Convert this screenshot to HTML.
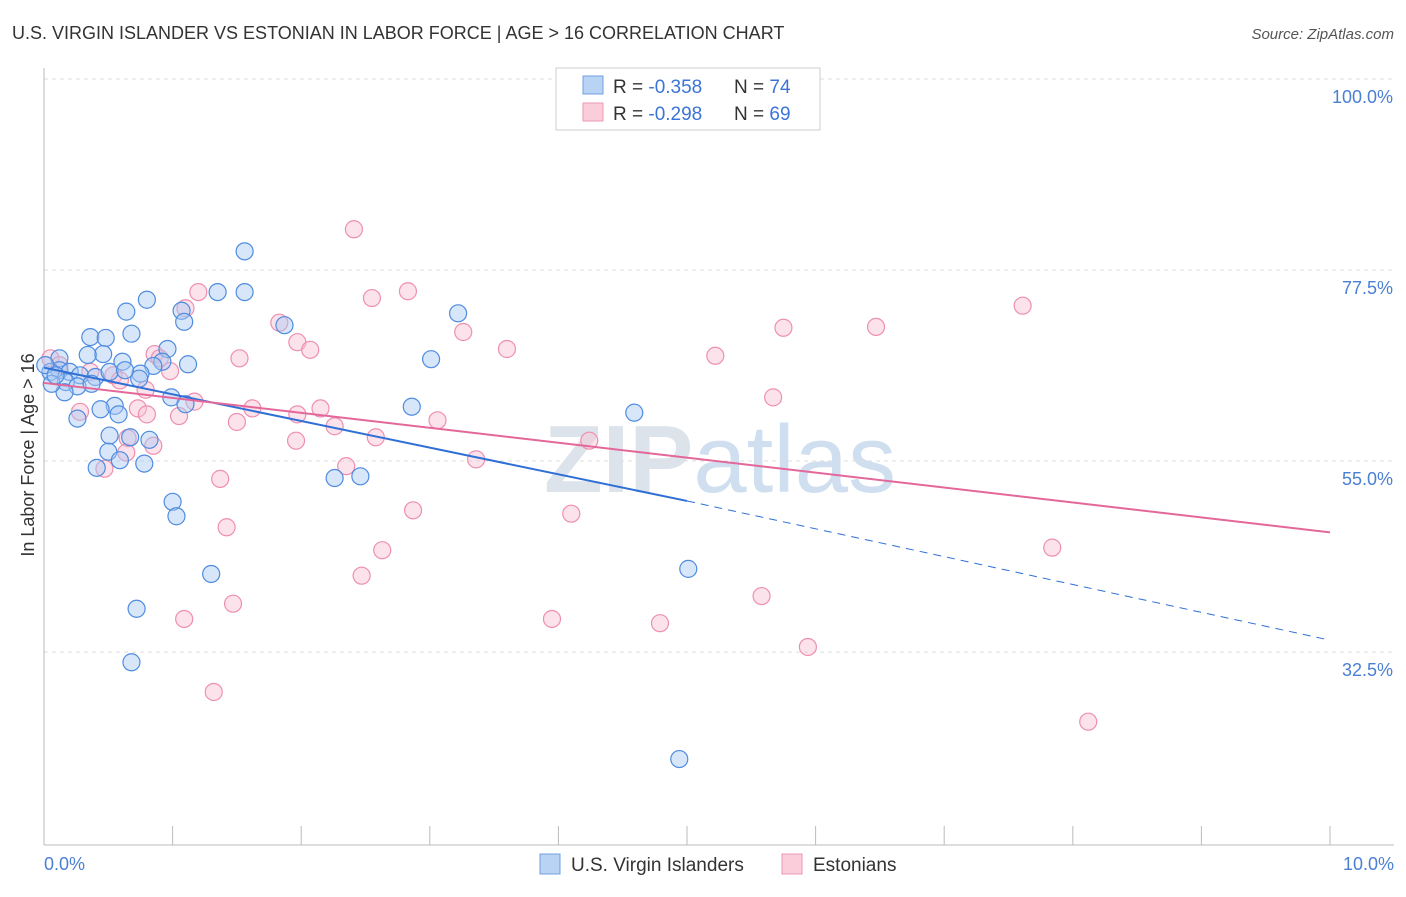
<!DOCTYPE html>
<html><head><meta charset="utf-8"><style>
body{margin:0;background:#fff;font-family:"Liberation Sans",sans-serif;}
svg text{font-family:"Liberation Sans",sans-serif;}
</style></head><body>
<svg id="chart" width="1406" height="892" xmlns="http://www.w3.org/2000/svg">
<text x="12" y="39" font-size="18" fill="#333">U.S. VIRGIN ISLANDER VS ESTONIAN IN LABOR FORCE | AGE &gt; 16 CORRELATION CHART</text>
<text x="1394" y="39" font-size="15" fill="#555" font-style="italic" text-anchor="end">Source: ZipAtlas.com</text>
<text x="720" y="492" font-size="96" fill="#dde3ea" text-anchor="middle" font-weight="bold">ZIP<tspan fill="#cfdff0" font-weight="normal">atlas</tspan></text>
<g id="grid"></g><g id="pts"></g><g id="trend"></g>
<text transform="translate(34,455) rotate(-90)" font-size="18" fill="#333" text-anchor="middle">In Labor Force | Age &gt; 16</text>
<text x="44" y="870" font-size="18" fill="#4a7fd4">0.0%</text>
<text x="1394" y="870" font-size="18" fill="#4a7fd4" text-anchor="end">10.0%</text>
<g>
<rect x="556" y="68" width="264" height="62" fill="#fff" stroke="#ccc"/>
<rect x="583" y="76" width="20" height="18" fill="#b9d3f5" stroke="#6f9fe0"/>
<rect x="583" y="103" width="20" height="18" fill="#fbcddb" stroke="#ee9ab5"/>
<text x="613" y="93" font-size="19" fill="#333">R = <tspan fill="#3b74d6">-0.358</tspan></text>
<text x="734" y="93" font-size="19" fill="#333">N = <tspan fill="#3b74d6">74</tspan></text>
<text x="613" y="120" font-size="19" fill="#333">R = <tspan fill="#3b74d6">-0.298</tspan></text>
<text x="734" y="120" font-size="19" fill="#333">N = <tspan fill="#3b74d6">69</tspan></text>
</g>
<g>
<rect x="540" y="854" width="20" height="20" fill="#b9d3f5" stroke="#6f9fe0"/>
<text x="571" y="871" font-size="19" fill="#333">U.S. Virgin Islanders</text>
<rect x="782" y="854" width="20" height="20" fill="#fbcddb" stroke="#ee9ab5"/>
<text x="813" y="871" font-size="19" fill="#333">Estonians</text>
</g>
</svg>
<script>
const yTicks=[100,77.5,55,32.5];
const xTickVals=[0,1,2,3,4,5,6,7,8,9,10];
const blueX=[1.56,1.35,1.56,0.80,0.64,1.07,1.09,1.87,3.22,0.68,0.36,0.48,0.96,0.46,0.34,0.12,0.61,0.92,1.12,3.01,0.85,0.75,0.74,0.12,0.20,0.05,0.28,0.40,0.51,0.63,0.17,0.26,0.16,0.06,0.37,0.99,0.55,0.44,1.10,0.58,0.26,2.86,4.59,0.51,0.67,0.82,0.50,0.59,0.78,0.41,2.26,2.46,1.00,1.03,1.30,5.01,0.72,0.68,4.94,0.01,0.09];
const blueY=[79.7,74.9,74.9,74.0,72.6,72.7,71.4,71.0,72.4,70.0,69.6,69.5,68.2,67.6,67.5,67.1,66.7,66.7,66.4,67.0,66.2,65.3,64.7,65.7,65.5,65.5,65.1,64.9,65.5,65.7,64.3,63.8,63.1,64.1,64.1,62.5,61.5,61.1,61.7,60.5,60.0,61.4,60.7,58.0,57.8,57.5,56.1,55.1,54.7,54.2,53.0,53.2,50.2,48.5,41.7,42.3,37.6,31.3,19.9,66.3,65.1];
const pinkX=[2.41,1.20,2.83,2.55,1.10,7.61,1.83,5.75,6.47,3.26,1.97,2.07,3.60,5.22,1.52,0.86,0.90,0.98,0.54,0.05,0.12,0.36,0.59,0.79,5.67,1.17,1.62,2.15,1.97,0.73,0.80,1.05,0.28,1.50,2.26,3.06,2.58,1.96,4.24,0.65,0.85,0.64,3.36,2.35,0.47,1.37,2.87,4.10,1.42,2.63,7.84,2.47,1.47,5.58,1.09,3.95,4.79,5.94,1.32,8.12];
const pinkY=[82.3,74.9,75.0,74.2,73.0,73.3,71.3,70.7,70.8,70.2,69.0,68.1,68.2,67.4,67.1,67.6,67.1,65.6,65.1,67.1,66.3,65.5,64.5,63.4,62.5,62.0,61.2,61.2,60.5,61.2,60.5,60.3,60.8,59.6,59.1,59.8,57.8,57.4,57.4,57.7,56.8,56.0,55.2,54.4,54.1,52.9,49.2,48.8,47.2,44.5,44.8,41.5,38.2,39.1,36.4,36.4,35.9,33.1,27.8,24.3];
const blueTrend=[66.0,50.3,33.9];
const pinkTrend=[64.2,46.6];
const NS="http://www.w3.org/2000/svg";
const X=v=>44+v*128.6, Y=v=>79+(100-v)*8.49;
function mk(t,a,p){const e=document.createElementNS(NS,t);for(const k in a)e.setAttribute(k,a[k]);p.appendChild(e);return e;}
const grid=document.getElementById('grid');
yTicks.forEach(t=>{
 const l=mk('line',{x1:44,x2:1394,y1:Y(t),y2:Y(t),stroke:'#ddd','stroke-dasharray':'4,4'},grid);
 
 
 const tx=mk('text',{x:1393,y:Y(t)+24,'font-size':18,fill:'#4a7fd4','text-anchor':'end'},grid);
 tx.textContent=(t===100?'100.0':t.toFixed(1))+'%';
 
 
});
const ax=mk('line',{x1:44,x2:44,y1:68,y2:845,stroke:'#bbb'},grid);


const bx=mk('line',{x1:44,x2:1394,y1:845,y2:845,stroke:'#bbb'},grid);


xTickVals.forEach(v=>{
 const l=mk('line',{x1:X(v),x2:X(v),y1:826,y2:845,stroke:'#bbb'},grid);
 
 
});
const pts=document.getElementById('pts');
function series(xs,ys,fill,stroke,name){
 xs.forEach((x,i)=>{
  const c=mk('circle',{cx:X(x),cy:Y(ys[i]),r:8.5,fill:fill,'fill-opacity':0.45,stroke:stroke,'stroke-width':1.2},pts);
  
  
 });
}
series(pinkX,pinkY,'#f9c0d2','#ee8fb0','estonian-point');
series(blueX,blueY,'#a9c8f2','#4f8ce0','virgin-islander-point');
const tr=document.getElementById('trend');
const b1=mk('line',{x1:X(0),y1:Y(blueTrend[0]),x2:X(5),y2:Y(blueTrend[1]),stroke:'#2f6fd6','stroke-width':2},tr);


const b2=mk('line',{x1:X(5),y1:Y(blueTrend[1]),x2:X(10),y2:Y(blueTrend[2]),stroke:'#2f6fd6','stroke-width':1,'stroke-dasharray':'8,6'},tr);


const p1=mk('line',{x1:X(0),y1:Y(pinkTrend[0]),x2:X(10),y2:Y(pinkTrend[1]),stroke:'#e4679a','stroke-width':2},tr);


</script>
</body></html>
